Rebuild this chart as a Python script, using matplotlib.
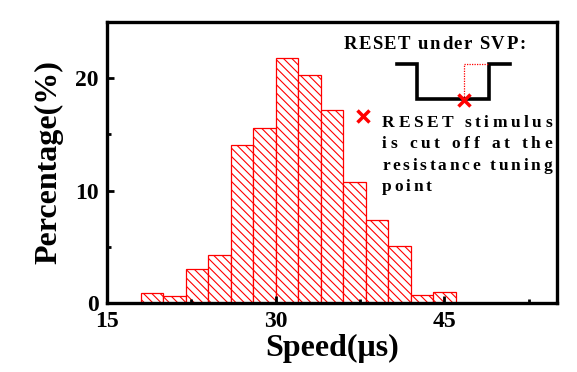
import matplotlib
matplotlib.use("Agg")
import matplotlib.pyplot as plt
from matplotlib.transforms import IdentityTransform
import numpy as np

# speed histogram, 2 us bins
bin_edges = [18, 20, 22, 24, 26, 28, 30, 32, 34, 36, 38, 40, 42, 44, 46]
percent = [0.9, 0.6, 3.0, 4.3, 14.1, 15.6, 21.8, 20.3, 17.2, 10.8, 7.4, 5.1, 0.7, 0.95]

x_ticks = [15, 30, 45]
y_ticks = [0, 10, 20]

# SVP pulse sketch (data coords)
pulse_x = [40.8, 42.6, 42.6, 49.0, 49.0, 50.8]
pulse_y = [21.25, 21.25, 18.15, 18.15, 21.25, 21.25]
cut_x = [46.7, 46.7, 49.0]
cut_y = [18.15, 21.25, 21.25]

note_lines = ["RESET stimulus", "is cut off at the", "resistance tuning", "point"]

plt.rcParams["font.family"] = ["Liberation Serif", "DejaVu Serif"]
plt.rcParams["font.weight"] = "bold"
plt.rcParams["hatch.color"] = "red"
plt.rcParams["hatch.linewidth"] = 0.8

fig = plt.figure(figsize=(5.77, 3.72), dpi=100)
ax = fig.add_axes([0.1854, 0.1855, 0.7799, 0.7554])

edges = np.array(bin_edges, dtype=float)
ax.bar(edges[:-1], percent, width=np.diff(edges), align="edge",
       facecolor="white", edgecolor="red", linewidth=0.9, hatch="\\\\\\\\")

ax.set_xlim(15, 55)
ax.set_ylim(0, 25)
ax.set_xticks(x_ticks)
ax.set_xticks([22.5, 37.5, 52.5], minor=True)
ax.set_yticks(y_ticks)
ax.set_yticks([5, 15, 25], minor=True)
ax.tick_params(which="both", direction="in", width=2, top=False, right=False)
ax.tick_params(which="major", length=5, labelsize=17, pad=6)
ax.tick_params(which="minor", length=3)
for sp in ax.spines.values():
    sp.set_linewidth(2.4)

ax.set_xlabel("Speed(\u03bcs)", fontsize=23, fontweight="bold", labelpad=1)
ax.set_ylabel("Percentage(%)", fontsize=23, fontweight="bold", labelpad=8)

# pulse schematic
ax.plot(pulse_x, pulse_y, color="black", lw=2.6, solid_joinstyle="miter")
ax.plot(cut_x, cut_y, color="red", lw=0.9, ls=(0, (1, 1)))
ax.plot([46.7], [18.05], marker="x", color="red", ms=9, mew=2.5)
ax.plot([37.75], [16.6], marker="x", color="red", ms=8, mew=2.5)

fig.canvas.draw()
renderer = fig.canvas.get_renderer()


def text_width(s, size):
    t = fig.text(0, 0, s + "|", fontsize=size, fontweight="bold")
    w = t.get_window_extent(renderer).width
    t.remove()
    t = fig.text(0, 0, "|", fontsize=size, fontweight="bold")
    w -= t.get_window_extent(renderer).width
    t.remove()
    return w


def tracked_text(x, y, s, size, tracking=None, target=None):
    """Draw s char by char with extra letter spacing, anchored at data (x, y)."""
    x0, y0 = ax.transData.transform((x, y))
    if target is not None:
        natural = text_width(s, size)
        tracking = (target - natural) / max(len(s) - 1, 1)
    for i, ch in enumerate(s):
        if ch == " ":
            continue
        xi = x0 + text_width(s[:i], size) + i * tracking
        fig.text(xi, y0, ch, fontsize=size, fontweight="bold",
                 transform=IdentityTransform(), va="baseline", ha="left")
    return tracking


tracked_text(36.0, 22.6, "RESET under SVP:", 13.5, target=182)
line_y = [15.66, 13.8, 11.85, 10.0]
trk = 0
for i, (line, ly) in enumerate(zip(note_lines, line_y)):
    if i < 3:
        trk = tracked_text(39.45, ly, line, 12.5, target=170)
    else:
        tracked_text(39.45, ly, line, 12.5, tracking=trk)

fig.savefig("out.png", dpi=100)
